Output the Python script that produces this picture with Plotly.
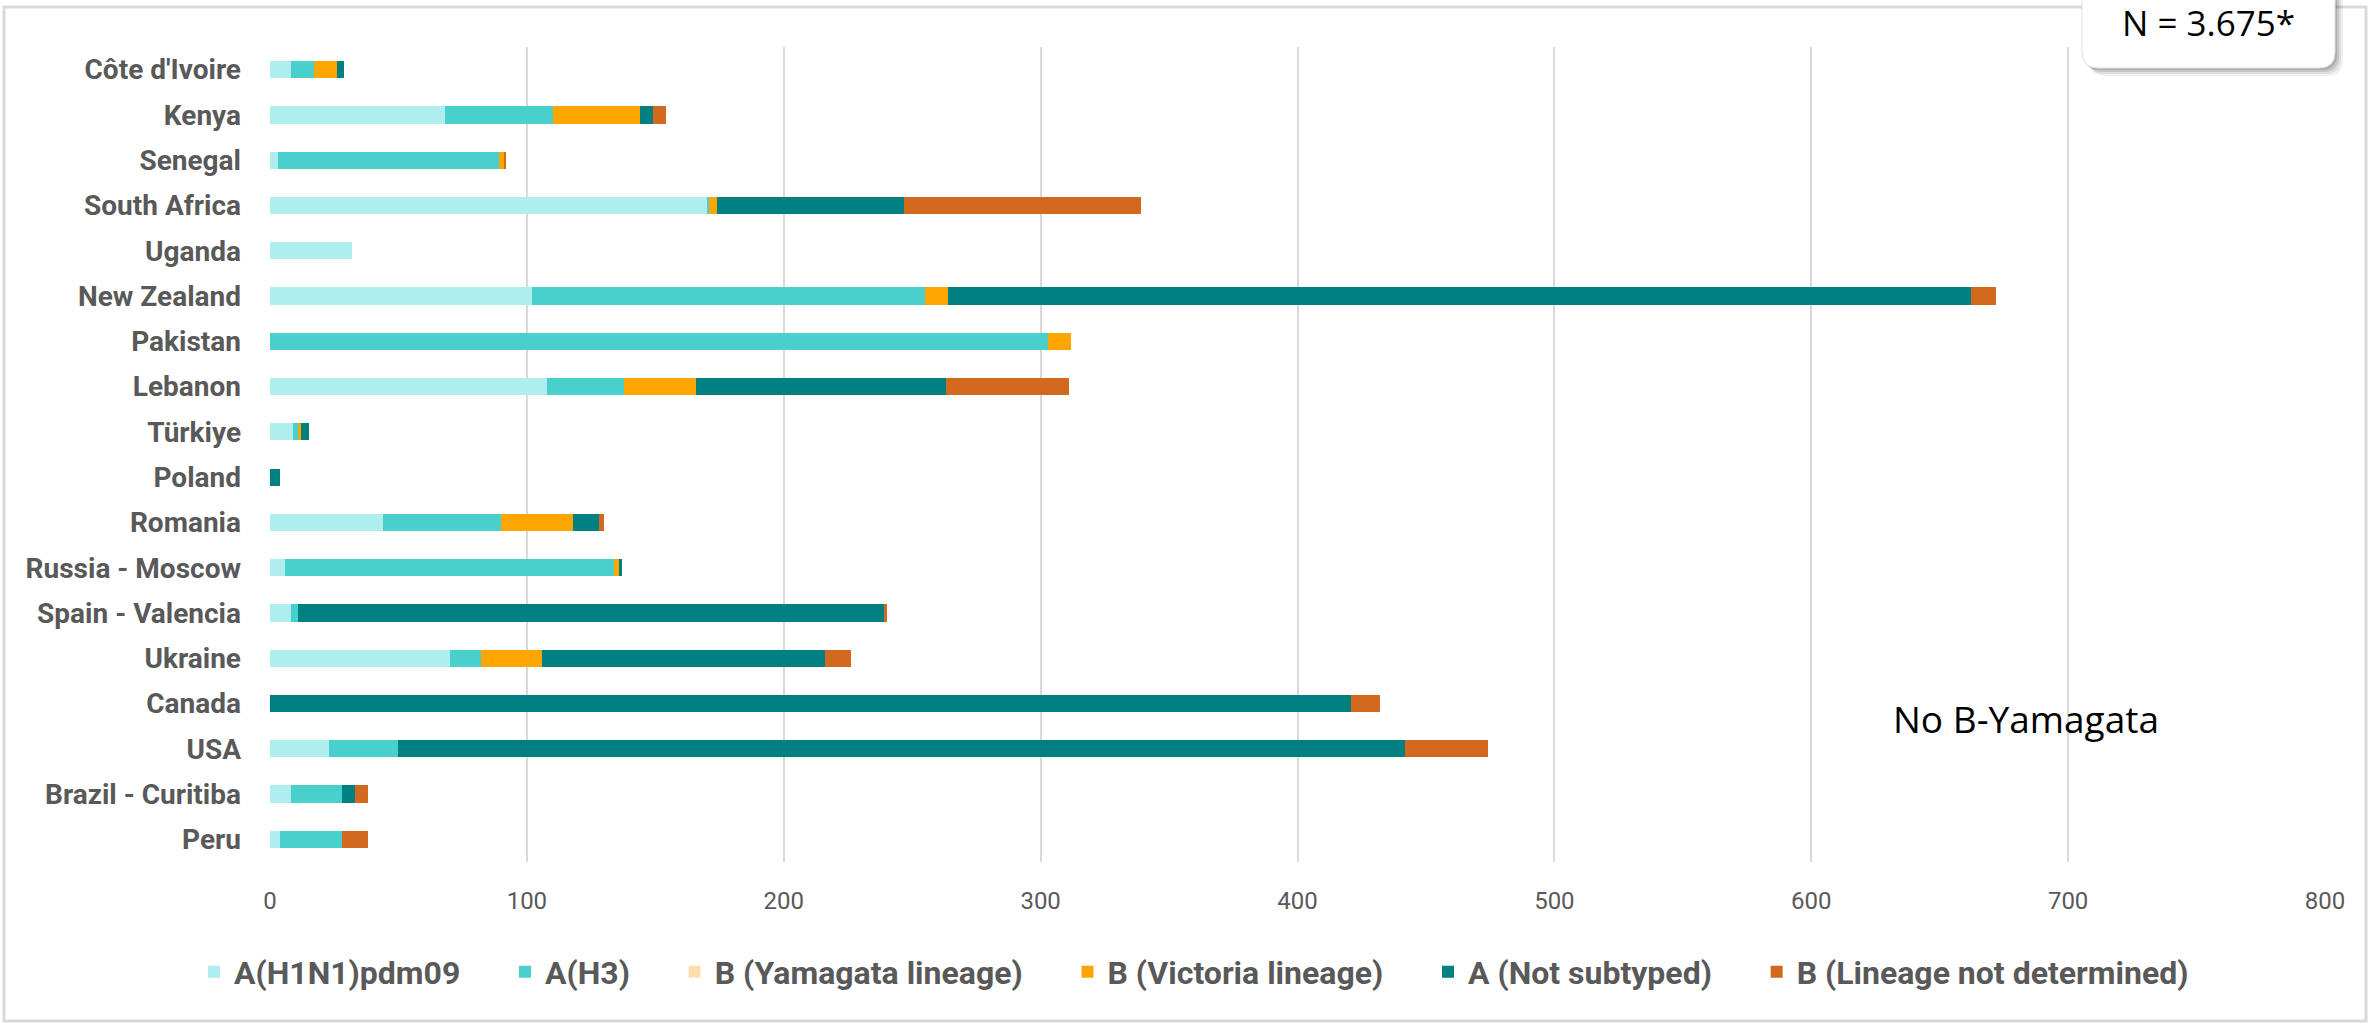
import plotly.graph_objects as go

countries = ["Côte d'Ivoire", "Kenya", "Senegal", "South Africa", "Uganda", "New Zealand",
             "Pakistan", "Lebanon", "Türkiye", "Poland", "Romania", "Russia - Moscow",
             "Spain - Valencia", "Ukraine", "Canada", "USA", "Brazil - Curitiba", "Peru"]
h1n1 = [8, 68, 3, 170, 32, 102, 0, 108, 9, 0, 44, 6, 8, 70, 0, 23, 8, 4]
h3 = [9, 42, 86, 1, 0, 153, 303, 30, 2, 0, 46, 128, 3, 12, 0, 27, 20, 24]
b_yam = [0, 0, 0, 0, 0, 0, 0, 0, 0, 0, 0, 0, 0, 0, 0, 0, 0, 0]
b_vic = [9, 34, 2, 3, 0, 9, 9, 28, 1, 0, 28, 2, 0, 24, 0, 0, 0, 0]
a_ns = [3, 5, 0, 73, 0, 398, 0, 97, 3, 4, 10, 1, 228, 110, 421, 392, 5, 0]
b_nd = [0, 5, 1, 92, 0, 10, 0, 48, 0, 0, 2, 0, 1, 10, 11, 32, 5, 10]

series_names = ["A(H1N1)pdm09", "A(H3)", "B (Yamagata lineage)", "B (Victoria lineage)",
                "A (Not subtyped)", "B (Lineage not determined)"]
series_vals = [h1n1, h3, b_yam, b_vic, a_ns, b_nd]
colors = ["#AFEEEE", "#48D1CC", "#FFDEAD", "#FFA500", "#008080", "#D2691E"]

W, H = 2369, 1024
ML, MR, MT, MB = 270, 44, 47, 162
PW = W - ML - MR
PH = H - MT - MB


def px_x(px):
    return (px - ML) / PW


def px_y(py):
    return (H - MB - py) / PH


def rrect(x0, y0, x1, y1, r):
    pts = [
        ("M", x0 + r, y0), ("L", x1 - r, y0), ("Q", x1, y0, x1, y0 + r),
        ("L", x1, y1 - r), ("Q", x1, y1, x1 - r, y1), ("L", x0 + r, y1),
        ("Q", x0, y1, x0, y1 - r), ("L", x0, y0 + r), ("Q", x0, y0, x0 + r, y0)]
    out = []
    for p in pts:
        cmd = p[0]
        coords = p[1:]
        s = []
        for i in range(0, len(coords), 2):
            s.append(f"{px_x(coords[i]):.5f},{px_y(coords[i+1]):.5f}")
        out.append(cmd + " " + " ".join(s))
    return " ".join(out) + " Z"


fig = go.Figure()
n_series = len(series_names)
for i, (name, vals, col) in enumerate(zip(series_names, series_vals, colors)):
    pad = "\u00a0" * 5 if i < n_series - 1 else ""
    fig.add_trace(go.Bar(y=countries, x=vals, name=name + pad, orientation="h",
                         marker=dict(color=col, line=dict(width=0))))

gray = "#595959"
fig.update_layout(
    width=W, height=H,
    margin=dict(l=ML, r=MR, t=MT, b=MB),
    barmode="stack", bargap=0.62,
    plot_bgcolor="white", paper_bgcolor="white",
    font=dict(family="Roboto", color=gray),
    showlegend=True,
    legend=dict(orientation="h", x=px_x(1194), xanchor="center", y=px_y(972), yanchor="middle",
                traceorder="normal", font=dict(family="Roboto", size=32, color=gray, weight="bold"),
                itemwidth=30, bgcolor="rgba(0,0,0,0)"),
)
fig.update_xaxes(range=[0, 800], dtick=100, showgrid=True, gridcolor="#D9D9D9", gridwidth=2,
                 zeroline=False, showline=False, ticks="", ticklabelstandoff=22,
                 tickfont=dict(family="Roboto", size=24, color=gray))
fig.update_yaxes(categoryorder="array", categoryarray=countries, autorange="reversed",
                 showgrid=False, zeroline=False, showline=False, ticks="", ticklabelstandoff=28,
                 tickfont=dict(family="Roboto", size=28, color=gray, weight="bold"))

shapes = []
# outer chart border
shapes.append(dict(type="rect", xref="paper", yref="paper", x0=px_x(4), x1=px_x(2366),
                   y0=px_y(1021), y1=px_y(7), line=dict(color="#D9D9D9", width=3),
                   fillcolor="rgba(0,0,0,0)", layer="below"))
# shadow for N box
for off, op in [(8, 0.06), (6, 0.08), (4, 0.10), (2, 0.12)]:
    shapes.append(dict(type="path", xref="paper", yref="paper",
                       path=rrect(2082 + off, -30 + off, 2335 + off, 68 + off, 16),
                       fillcolor=f"rgba(0,0,0,{op})", line=dict(width=0), layer="above"))
shapes.append(dict(type="path", xref="paper", yref="paper",
                   path=rrect(2082, -30, 2335, 68, 16),
                   fillcolor="white", line=dict(color="#E0E0E0", width=1), layer="above"))
fig.update_layout(shapes=shapes)

fig.add_annotation(x=px_x(2208), y=px_y(23), xref="paper", yref="paper", text="N = 3.675*",
                   showarrow=False, xanchor="center", yanchor="middle",
                   font=dict(family="Open Sans", size=35, color="black"))
fig.add_annotation(x=px_x(2026), y=px_y(718), xref="paper", yref="paper", text="No B-Yamagata",
                   showarrow=False, xanchor="center", yanchor="middle",
                   font=dict(family="Open Sans", size=37, color="black"))

fig.write_html("out.html")
